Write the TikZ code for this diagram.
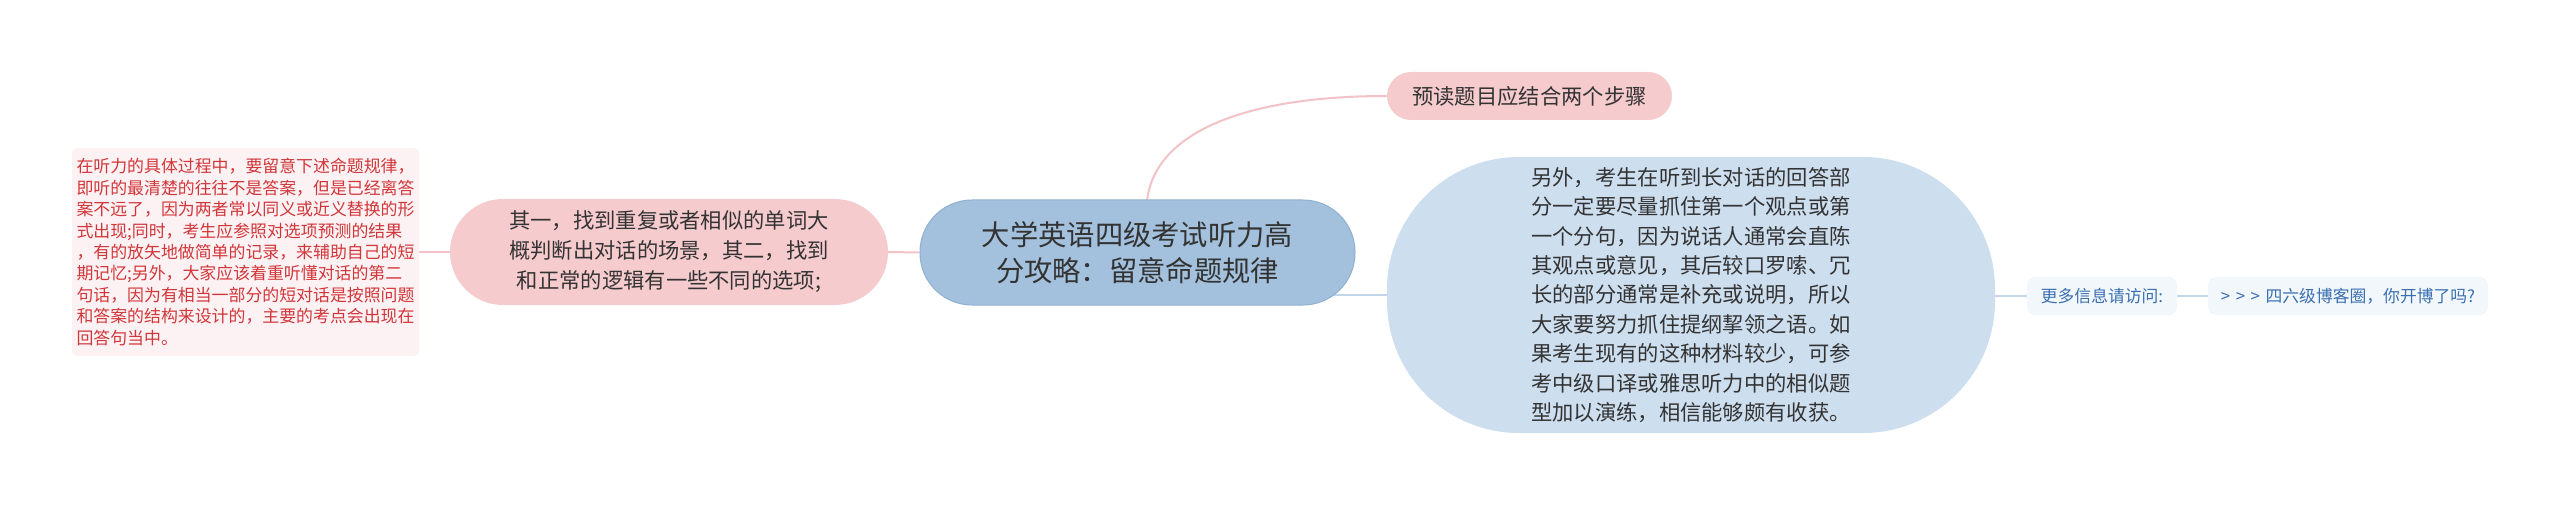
\documentclass[tikz,border=0pt]{standalone}
\usepackage{fontspec}
\setmainfont{Noto Sans CJK SC}
\usetikzlibrary{backgrounds}
\definecolor{cfill}{HTML}{A3C1DD}
\definecolor{cdraw}{HTML}{8FB0D0}
\definecolor{pfill}{HTML}{F6CBCE}
\definecolor{lfill}{HTML}{FDF2F3}
\definecolor{ltext}{HTML}{D1363A}
\definecolor{bfill}{HTML}{CDDEEF}
\definecolor{sfill}{HTML}{F2F7FC}
\definecolor{stext}{HTML}{3A6FB0}
\definecolor{tdark}{HTML}{333333}
\definecolor{pline}{HTML}{F2C2C6}
\definecolor{bline}{HTML}{C3D5E8}
\tikzset{
  base/.style={inner sep=0pt, align=center, text=tdark},
  central/.style={base, fill=cfill, draw=cdraw, line width=1pt, minimum width=435pt, minimum height=105pt, rounded corners=52pt, font=\fontsize{28.3}{35.5}\selectfont},
  pinkpill/.style={base, fill=pfill, rounded corners=#1, font=\fontsize{21.3}{30}\selectfont},
  leafnote/.style={inner sep=0pt, align=left, text=ltext, fill=lfill, rounded corners=6pt, minimum width=347pt, minimum height=208pt, font=\fontsize{16.9}{21.4}\selectfont},
  bignote/.style={base, align=left, fill=bfill, minimum width=608pt, minimum height=276pt, rounded corners=132pt, font=\fontsize{21.3}{29.4}\selectfont},
  smallnote/.style={inner sep=0pt, text=stext, fill=sfill, rounded corners=8pt, minimum height=38pt, font=\fontsize{16.8}{20}\selectfont},
  pinkconn/.style={draw=pline, line width=2pt},
  blueconn/.style={draw=bline, line width=2pt}
}
\begin{document}
\begin{tikzpicture}[x=1pt,y=-1pt]
\useasboundingbox (0,0) rectangle (2560,505);
\node[central] (c) at (1137.5,252.5) {大学英语四级考试听力高\\分攻略：留意命题规律};
\node[pinkpill=53pt, minimum width=438pt, minimum height=106pt] (a) at (669,252) {其一，找到重复或者相似的单词大\\概判断出对话的场景，其二，找到\\和正常的逻辑有一些不同的选项;};
\node[leafnote] (l) at (245.5,252) {在听力的具体过程中，要留意下述命题规律，\\即听的最清楚的往往不是答案，但是已经离答\\案不远了，因为两者常以同义或近义替换的形\\式出现;同时，考生应参照对选项预测的结果\\，有的放矢地做简单的记录，来辅助自己的短\\期记忆;另外，大家应该着重听懂对话的第二\\句话，因为有相当一部分的短对话是按照问题\\和答案的结构来设计的，主要的考点会出现在\\回答句当中。};
\node[pinkpill=24pt, minimum width=285pt, minimum height=48pt] (t) at (1529.5,96) {预读题目应结合两个步骤};
\node[bignote] (b) at (1691,295) {另外，考生在听到长对话的回答部\\分一定要尽量抓住第一个观点或第\\一个分句，因为说话人通常会直陈\\其观点或意见，其后较口罗嗦、冗\\长的部分通常是补充或说明，所以\\大家要努力抓住提纲挈领之语。如\\果考生现有的这种材料较少，可参\\考中级口译或雅思听力中的相似题\\型加以演练，相信能够颇有收获。};
\node[smallnote, minimum width=150pt] (m) at (2102,296) {更多信息请访问:};
\node[smallnote, minimum width=280pt] (n) at (2348,296) {>\,\,>\,\,>\,\,四六级博客圈，你开博了吗?};
\begin{pgfonlayer}{background}
\draw[pinkconn] (l.east) -- (a.west);
\draw[pinkconn] (a.east) -- (c.west);
\draw[pinkconn] (1147,201) .. controls (1155,130) and (1250,96) .. (t.west);
\draw[blueconn] (c.center |- b.west) -- (b.west);
\draw[blueconn] (b.east |- m.west) -- (m.west);
\draw[blueconn] (m.east) -- (n.west);
\end{pgfonlayer}
\end{tikzpicture}
\end{document}
